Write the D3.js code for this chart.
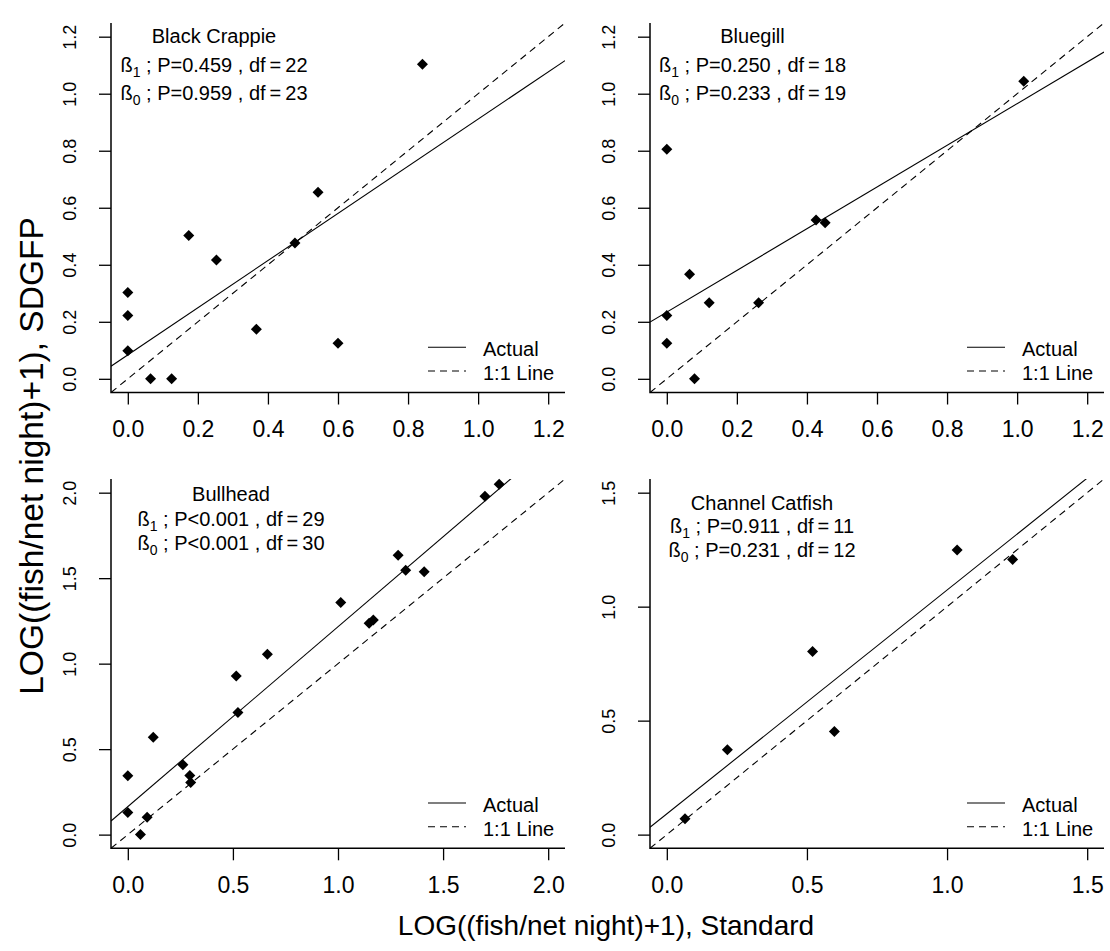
<!DOCTYPE html>
<html>
<head>
<meta charset="utf-8">
<script src="https://cdn.jsdelivr.net/npm/d3@7"></script>
<style>
  html, body { margin: 0; padding: 0; background: #fff; }
  svg { display: block; font-family: "Liberation Sans", Arial, sans-serif; }
</style>
</head>
<body>
<svg id="chart" width="1110" height="951"></svg>
<script>
// ---------------- data ----------------
const speciesNames = ["Black Crappie", "Bluegill", "Bullhead", "Channel Catfish"];

const crappieStd   = [0.841, 0.543, 0.174, 0.477, 0.253, 0.000, 0.000, 0.367, 0.600, 0.000, 0.065, 0.125];
const crappieSdgfp = [1.103, 0.654, 0.503, 0.476, 0.417, 0.303, 0.222, 0.174, 0.125, 0.098, 0.000, 0.000];

const bluegillStd   = [1.019, 0.000, 0.426, 0.452, 0.065, 0.121, 0.262, 0.000, 0.000, 0.079];
const bluegillSdgfp = [1.044, 0.805, 0.557, 0.547, 0.367, 0.267, 0.267, 0.222, 0.125, 0.000];

const bullheadStd   = [1.767, 1.699, 1.286, 1.322, 1.410, 1.013, 1.168, 1.148, 0.664, 0.516,
                       0.524, 0.121, 0.000, 0.262, 0.295, 0.299, 0.000, 0.092, 0.060];
const bullheadSdgfp = [2.049, 1.979, 1.634, 1.547, 1.537, 1.358, 1.255, 1.236, 1.055, 0.928,
                       0.714, 0.570, 0.344, 0.409, 0.346, 0.305, 0.130, 0.101, 0.000];

const catfishStd   = [1.036, 1.234, 0.520, 0.598, 0.216, 0.065];
const catfishSdgfp = [1.248, 1.207, 0.803, 0.452, 0.372, 0.070];

// fitted regression ("Actual") lines
const fitIntercept = [0.084, 0.234, 0.164, 0.091];
const fitSlope     = [0.827, 0.731, 1.052, 0.982];

// statistics text
const pSlope  = ["P=0.459", "P=0.250", "P<0.001", "P=0.911"];
const dfSlope = ["22", "18", "29", "11"];
const pInt    = ["P=0.959", "P=0.233", "P<0.001", "P=0.231"];
const dfInt   = ["23", "19", "30", "12"];

// axis ticks
const ticksSmall = [0.0, 0.2, 0.4, 0.6, 0.8, 1.0, 1.2];
const ticksBullhead = [0.0, 0.5, 1.0, 1.5, 2.0];
const ticksCatfish = [0.0, 0.5, 1.0, 1.5];

const xTitle = "LOG((fish/net night)+1), Standard";
const yTitle = "LOG((fish/net night)+1), SDGFP";
const legendLabels = ["Actual", "1:1 Line"];

// ---------------- layout ----------------
const panels = [
  { xs: crappieStd,  ys: crappieSdgfp,  ticks: ticksSmall,    dom: [-0.048, 1.248],
    box: { x0: 111, x1: 565, y0: 23, y1: 392.5 }, ann: { cx: 214, b: [42.7, 71.7, 100] } },
  { xs: bluegillStd, ys: bluegillSdgfp, ticks: ticksSmall,    dom: [-0.048, 1.248],
    box: { x0: 650, x1: 1104, y0: 23, y1: 392.5 }, ann: { cx: 752.5, b: [42.7, 71.7, 100] } },
  { xs: bullheadStd, ys: bullheadSdgfp, ticks: ticksBullhead, dom: [-0.08, 2.08],
    box: { x0: 111, x1: 565, y0: 479, y1: 848.3 }, ann: { cx: 231, b: [500.7, 525.7, 550] } },
  { xs: catfishStd,  ys: catfishSdgfp,  ticks: ticksCatfish,  dom: [-0.06, 1.56],
    box: { x0: 650, x1: 1104, y0: 479, y1: 848.3 }, ann: { cx: 762, b: [510, 533.3, 556.7] } }
];

const svg = d3.select("#chart");
svg.append("rect").attr("width", 1110).attr("height", 951).attr("fill", "#fff");

const fmt = d3.format(".1f");
const diamond = r => `M0,${-r}L${r},0L0,${r}L${-r},0Z`;

panels.forEach((p, i) => {
  const b = p.box;
  const x = d3.scaleLinear().domain(p.dom).range([b.x0, b.x1]);
  const y = d3.scaleLinear().domain(p.dom).range([b.y1, b.y0]);
  const g = svg.append("g");

  const clipId = "clip" + i;
  svg.append("defs").append("clipPath").attr("id", clipId)
    .append("rect").attr("x", b.x0).attr("y", b.y0)
    .attr("width", b.x1 - b.x0).attr("height", b.y1 - b.y0);

  // x axis
  const xAxis = d3.axisBottom(x).tickValues(p.ticks).tickFormat(fmt)
    .tickSize(12).tickSizeOuter(0).tickPadding(16);
  const gx = g.append("g").attr("transform", `translate(0,${b.y1})`).call(xAxis);
  gx.select(".domain").remove();
  gx.selectAll(".tick line").attr("stroke", "#000").attr("stroke-width", 1.3);
  gx.selectAll(".tick text").attr("font-size", 23).attr("fill", "#000")
    .attr("font-family", "Liberation Sans, Arial, sans-serif");

  // y axis
  const yAxis = d3.axisLeft(y).tickValues(p.ticks).tickFormat(fmt)
    .tickSize(12).tickSizeOuter(0);
  const gy = g.append("g").attr("transform", `translate(${b.x0},0)`).call(yAxis);
  gy.select(".domain").remove();
  gy.selectAll(".tick line").attr("stroke", "#000").attr("stroke-width", 1.3);
  gy.selectAll(".tick text")
    .attr("font-size", 18).attr("fill", "#000")
    .attr("font-family", "Liberation Sans, Arial, sans-serif")
    .attr("x", null).attr("dy", null)
    .attr("text-anchor", "middle")
    .attr("transform", "translate(-35,0) rotate(-90)");

  // L-shaped box
  g.append("path")
    .attr("d", `M${b.x0},${b.y0}V${b.y1}H${b.x1}`)
    .attr("fill", "none").attr("stroke", "#000").attr("stroke-width", 1.5);

  // lines (clipped)
  const lg = g.append("g").attr("clip-path", `url(#${clipId})`);
  const xa = p.dom[0], xb = p.dom[1];
  lg.append("line")
    .attr("x1", x(xa)).attr("y1", y(fitIntercept[i] + fitSlope[i] * xa))
    .attr("x2", x(xb)).attr("y2", y(fitIntercept[i] + fitSlope[i] * xb))
    .attr("stroke", "#000").attr("stroke-width", 1.1);
  lg.append("line")
    .attr("x1", x(xa)).attr("y1", y(xa))
    .attr("x2", x(xb)).attr("y2", y(xb))
    .attr("stroke", "#000").attr("stroke-width", 1.1).attr("stroke-dasharray", "7,5");

  // points
  g.append("g").selectAll("path").data(p.xs.map((v, k) => [v, p.ys[k]])).join("path")
    .attr("d", diamond(5.5))
    .attr("transform", d => `translate(${x(d[0])},${y(d[1])})`)
    .attr("fill", "#000");

  // annotations
  const a = p.ann;
  g.append("text").attr("x", a.cx).attr("y", a.b[0])
    .attr("text-anchor", "middle").attr("font-size", 20).attr("fill", "#000")
    .text(speciesNames[i]);
  const mk = (yy, sub, pTxt, df) => {
    const t = g.append("text").attr("x", a.cx).attr("y", yy)
      .attr("text-anchor", "middle").attr("font-size", 20).attr("fill", "#000");
    t.append("tspan").text("\u00DF");
    t.append("tspan").attr("font-size", 14).attr("dy", 5).text(sub);
    t.append("tspan").attr("dy", -5).text(" ; " + pTxt + " , df\u2009=\u2009" + df);
  };
  mk(a.b[1], "1", pSlope[i], dfSlope[i]);
  mk(a.b[2], "0", pInt[i], dfInt[i]);

  // legend
  const lx0 = b.x1 - 137, lx1 = b.x1 - 99, tx = b.x1 - 82;
  g.append("line").attr("x1", lx0).attr("x2", lx1)
    .attr("y1", b.y1 - 45.3).attr("y2", b.y1 - 45.3)
    .attr("stroke", "#000").attr("stroke-width", 1.1);
  g.append("line").attr("x1", lx0).attr("x2", lx1)
    .attr("y1", b.y1 - 21.5).attr("y2", b.y1 - 21.5)
    .attr("stroke", "#000").attr("stroke-width", 1.1).attr("stroke-dasharray", "7,5");
  g.append("text").attr("x", tx).attr("y", b.y1 - 36.7).attr("font-size", 20)
    .attr("fill", "#000").text(legendLabels[0]);
  g.append("text").attr("x", tx).attr("y", b.y1 - 12.7).attr("font-size", 20)
    .attr("fill", "#000").text(legendLabels[1]);
});

// axis titles
svg.append("text").attr("x", 606).attr("y", 935).attr("text-anchor", "middle")
  .attr("font-size", 28).attr("fill", "#000").text(xTitle);
svg.append("text").attr("transform", "translate(43,456) rotate(-90)")
  .attr("text-anchor", "middle").attr("font-size", 33.5).attr("fill", "#000").text(yTitle);
</script>
</body>
</html>
